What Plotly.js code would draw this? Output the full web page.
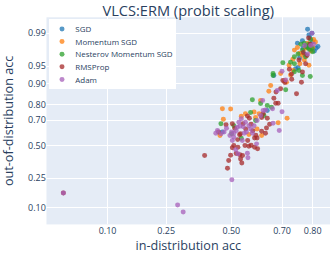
<!DOCTYPE html>
<html>
<head>
<meta charset="utf-8">
<script src="https://cdn.plot.ly/plotly-3.0.1.min.js"></script>
<style>
html,body{margin:0;padding:0;background:#fff;overflow:hidden;width:332px;height:254px;}
#chart{width:500px;height:383px;transform:scale(0.664);transform-origin:0 0;}
</style>
</head>
<body>
<div id="chart"></div>
<script>
// ---- data (accuracies) ----
const seriesNames = ["SGD", "Momentum SGD", "Nesterov Momentum SGD", "RMSProp", "Adam"];
const seriesColors = ["#1f77b4", "#ff7f0e", "#2ca02c", "#a52a2a", "#a760ba"];

const sgdIn  = [0.785, 0.798, 0.789, 0.810, 0.755, 0.747, 0.670, 0.645, 0.463, 0.753, 0.775, 0.769, 0.794, 0.780, 0.800, 0.792, 0.805, 0.771, 0.760, 0.815];
const sgdOut = [0.992, 0.990, 0.989, 0.978, 0.947, 0.944, 0.927, 0.766, 0.610, 0.983, 0.971, 0.985, 0.976, 0.980, 0.984, 0.987, 0.975, 0.978, 0.965, 0.980];

const momIn  = [0.463, 0.467, 0.453, 0.497, 0.593, 0.613, 0.599, 0.718, 0.686, 0.619, 0.651, 0.658, 0.695, 0.710, 0.725, 0.738, 0.743, 0.753, 0.769, 0.761, 0.779, 0.789, 0.803, 0.808, 0.730, 0.739, 0.716, 0.558, 0.541, 0.623, 0.572, 0.605, 0.795, 0.785, 0.800, 0.775, 0.760];
const momOut = [0.777, 0.707, 0.582, 0.775, 0.756, 0.745, 0.720, 0.714, 0.681, 0.825, 0.870, 0.893, 0.932, 0.911, 0.952, 0.963, 0.976, 0.979, 0.969, 0.955, 0.978, 0.952, 0.986, 0.984, 0.928, 0.940, 0.905, 0.745, 0.728, 0.582, 0.590, 0.635, 0.975, 0.983, 0.979, 0.962, 0.972];

const nesIn  = [0.586, 0.667, 0.667, 0.713, 0.703, 0.730, 0.743, 0.793, 0.769, 0.758, 0.743, 0.769, 0.785, 0.798, 0.789, 0.775, 0.755, 0.743, 0.619, 0.645, 0.579, 0.541, 0.501, 0.457, 0.510, 0.599, 0.632, 0.661, 0.794, 0.764, 0.779, 0.800, 0.790, 0.782];
const nesOut = [0.829, 0.932, 0.927, 0.876, 0.957, 0.958, 0.955, 0.924, 0.927, 0.940, 0.937, 0.976, 0.979, 0.978, 0.982, 0.983, 0.971, 0.967, 0.808, 0.797, 0.754, 0.561, 0.596, 0.674, 0.660, 0.698, 0.733, 0.787, 0.986, 0.982, 0.967, 0.974, 0.977, 0.980];

const rmsIn  = [0.041, 0.391, 0.484, 0.489, 0.497, 0.504, 0.510, 0.527, 0.520, 0.535, 0.538, 0.543, 0.546, 0.526, 0.534, 0.556, 0.572, 0.581, 0.595, 0.600, 0.607, 0.623, 0.642, 0.638, 0.654, 0.645, 0.623, 0.629, 0.670, 0.677, 0.678, 0.686, 0.504, 0.478, 0.514, 0.566, 0.574, 0.581, 0.548, 0.559, 0.588, 0.538, 0.567, 0.595, 0.447, 0.605, 0.703, 0.710, 0.695, 0.734, 0.750, 0.766, 0.769, 0.758, 0.783, 0.772, 0.788, 0.793, 0.779, 0.726, 0.733];
const rmsOut = [0.163, 0.418, 0.319, 0.378, 0.420, 0.481, 0.500, 0.486, 0.434, 0.425, 0.390, 0.359, 0.418, 0.549, 0.588, 0.500, 0.494, 0.503, 0.563, 0.585, 0.473, 0.617, 0.642, 0.600, 0.670, 0.715, 0.720, 0.745, 0.837, 0.810, 0.866, 0.810, 0.674, 0.667, 0.640, 0.730, 0.714, 0.670, 0.674, 0.635, 0.620, 0.596, 0.541, 0.486, 0.610, 0.563, 0.911, 0.904, 0.880, 0.915, 0.858, 0.905, 0.936, 0.962, 0.969, 0.973, 0.987, 0.982, 0.955, 0.943, 0.930];

const adamIn  = [0.041, 0.289, 0.309, 0.502, 0.443, 0.436, 0.457, 0.470, 0.494, 0.501, 0.510, 0.524, 0.531, 0.541, 0.549, 0.558, 0.572, 0.562, 0.579, 0.593, 0.518, 0.527, 0.566, 0.568, 0.603, 0.629, 0.638, 0.665, 0.700, 0.690, 0.667, 0.619, 0.605, 0.504, 0.510, 0.586, 0.545, 0.776, 0.794, 0.803, 0.798, 0.785, 0.700, 0.713, 0.683, 0.627, 0.520, 0.535, 0.553, 0.480];
const adamOut = [0.163, 0.109, 0.084, 0.240, 0.622, 0.600, 0.596, 0.610, 0.582, 0.610, 0.568, 0.647, 0.685, 0.710, 0.652, 0.685, 0.660, 0.610, 0.635, 0.660, 0.465, 0.432, 0.437, 0.400, 0.514, 0.766, 0.770, 0.777, 0.758, 0.622, 0.678, 0.733, 0.698, 0.541, 0.600, 0.600, 0.541, 0.981, 0.981, 0.982, 0.990, 0.971, 0.938, 0.913, 0.873, 0.825, 0.620, 0.655, 0.600, 0.640];

const tickVals = [0.10, 0.25, 0.50, 0.70, 0.80, 0.90, 0.95, 0.99];
const xTickVals = [0.10, 0.25, 0.50, 0.70, 0.80];
const tickLabels = ["0.10", "0.25", "0.50", "0.70", "0.80", "0.90", "0.95", "0.99"];

// ---- probit transform (inverse normal CDF, Acklam) ----
function probit(p) {
  const a = [-3.969683028665376e+01, 2.209460984245205e+02, -2.759285104469687e+02, 1.383577518672690e+02, -3.066479806614716e+01, 2.506628277459239e+00];
  const b = [-5.447609879822406e+01, 1.615858368580409e+02, -1.556989798598866e+02, 6.680131188771972e+01, -1.328068155288572e+01];
  const c = [-7.784894002430293e-03, -3.223964580411365e-01, -2.400758277161838e+00, -2.549732539343734e+00, 4.374664141464968e+00, 2.938163982698783e+00];
  const d = [7.784695709041462e-03, 3.224671290700398e-01, 2.445134137142996e+00, 3.754408661907416e+00];
  const pl = 0.02425, ph = 1 - pl;
  let q, r;
  if (p < pl) { q = Math.sqrt(-2 * Math.log(p)); return (((((c[0]*q+c[1])*q+c[2])*q+c[3])*q+c[4])*q+c[5]) / ((((d[0]*q+d[1])*q+d[2])*q+d[3])*q+1); }
  if (p <= ph) { q = p - 0.5; r = q*q; return (((((a[0]*r+a[1])*r+a[2])*r+a[3])*r+a[4])*r+a[5])*q / (((((b[0]*r+b[1])*r+b[2])*r+b[3])*r+b[4])*r+1); }
  q = Math.sqrt(-2 * Math.log(1 - p)); return -(((((c[0]*q+c[1])*q+c[2])*q+c[3])*q+c[4])*q+c[5]) / ((((d[0]*q+d[1])*q+d[2])*q+d[3])*q+1);
}

const xs = [sgdIn, momIn, nesIn, rmsIn, adamIn];
const ys = [sgdOut, momOut, nesOut, rmsOut, adamOut];

const traces = seriesNames.map((name, i) => ({
  type: "scatter", mode: "markers", name: name,
  x: xs[i].map(probit), y: ys[i].map(probit),
  customdata: xs[i].map((v, k) => [v, ys[i][k]]),
  marker: { color: seriesColors[i], size: 7.5, opacity: 0.75 },
  hovertemplate: "%{customdata[0]:.3f}, %{customdata[1]:.3f}<extra>" + name + "</extra>"
}));

// Layout is built at 500x383 and shown scaled to 332x254.
const layout = {
  width: 500, height: 383,
  margin: { l: 70, r: 3, t: 26, b: 45, pad: 0 },
  paper_bgcolor: "#ffffff", plot_bgcolor: "#e5ecf6",
  font: { family: "Open Sans, sans-serif", color: "#2a3f5f", size: 12 },
  title: { text: "VLCS:ERM (probit scaling)", x: 0.5, xref: "paper", y: 0.958, yref: "container", yanchor: "middle", font: { size: 22, color: "#2a3f5f" } },
  xaxis: {
    range: [-1.914, 1.021], tickvals: xTickVals.map(probit), ticktext: tickLabels.slice(0, 5),
    gridcolor: "#ffffff", gridwidth: 1.5, zeroline: false, showline: false, ticks: "",
    tickfont: { size: 13.5 }, automargin: false,
    title: { text: "in-distribution acc", font: { size: 19 }, standoff: 6 }
  },
  yaxis: {
    range: [-1.634, 2.658], tickvals: tickVals.map(probit), ticktext: tickLabels,
    gridcolor: "#ffffff", gridwidth: 1.5, zeroline: false, showline: false, ticks: "",
    tickfont: { size: 13.5 }, automargin: false,
    title: { text: "out-of-distribution acc", font: { size: 19 }, standoff: 16 }
  },
  legend: {
    x: 0.008, y: 0.99, xanchor: "left", yanchor: "top",
    bgcolor: "#ffffff", borderwidth: 0, font: { size: 12 }
  },
  showlegend: true
};

Plotly.newPlot("chart", traces, layout, { displayModeBar: false, staticPlot: true });
</script>
</body>
</html>
